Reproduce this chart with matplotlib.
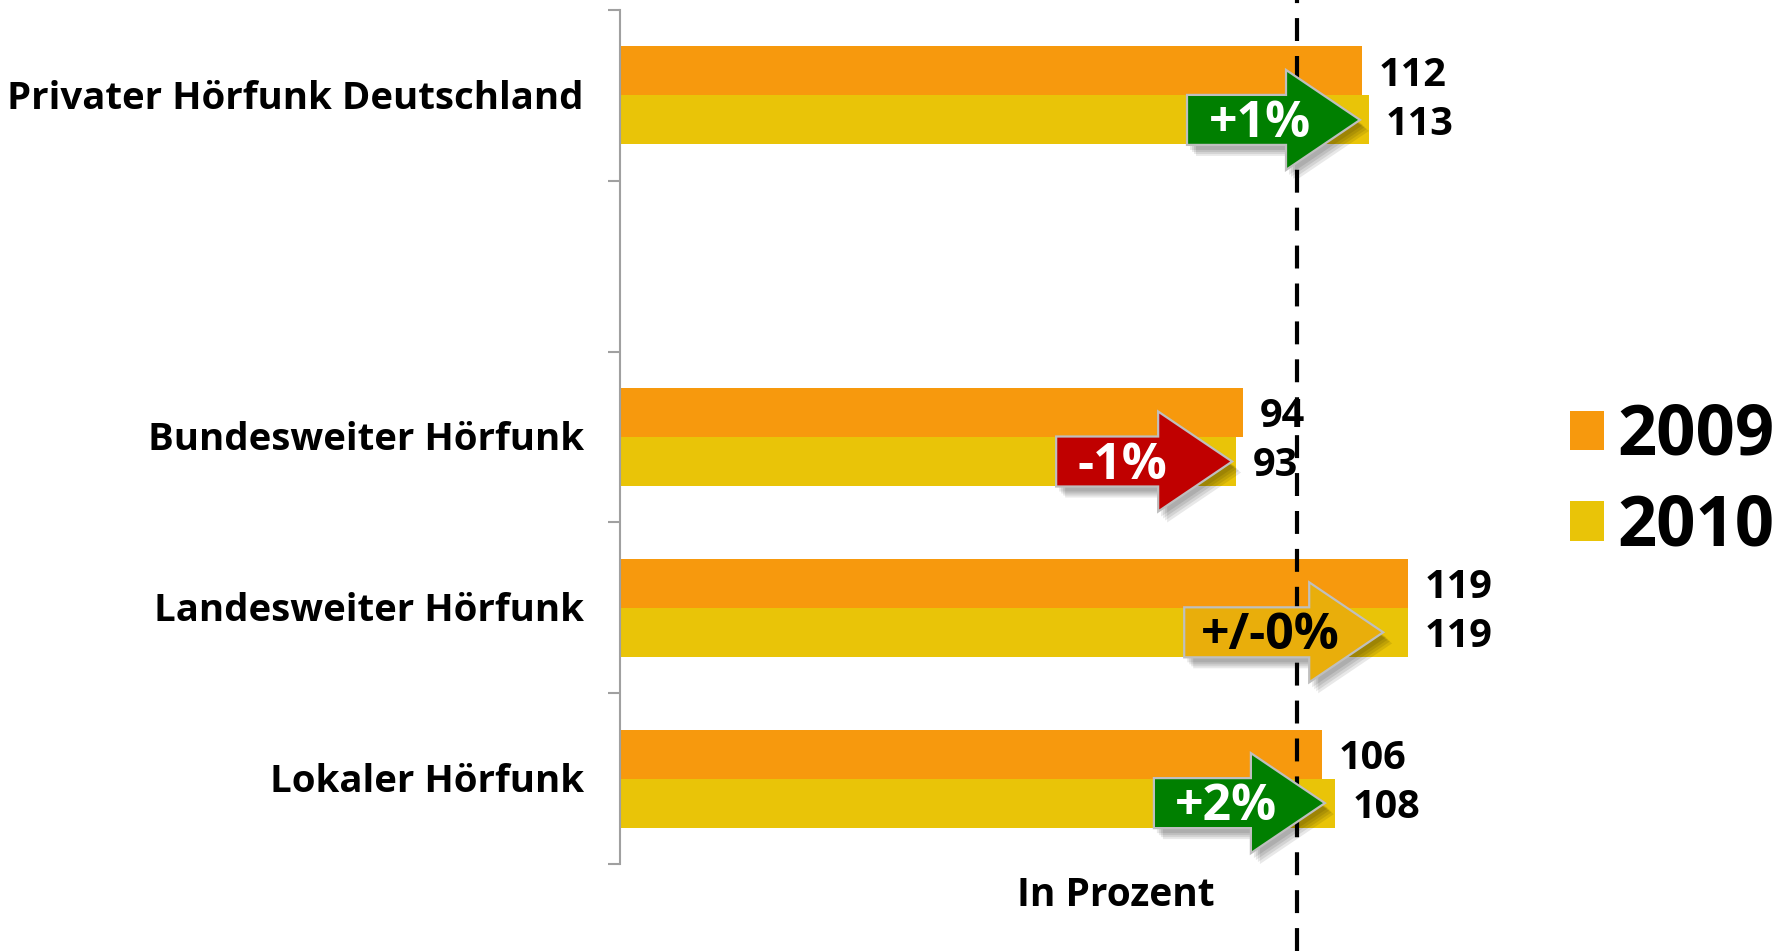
import matplotlib
matplotlib.use("Agg")
import matplotlib.pyplot as plt
from matplotlib.patches import Polygon
from matplotlib.transforms import blended_transform_factory

# ---------------- data ----------------
categories = ["Privater Hörfunk Deutschland", "", "Bundesweiter Hörfunk",
              "Landesweiter Hörfunk", "Lokaler Hörfunk"]
values_2009 = [112, None, 94, 119, 106]
values_2010 = [113, None, 93, 119, 108]
series_names = ["2009", "2010"]
changes = ["+1%", None, "-1%", "+/-0%", "+2%"]
reference_value = 102.2
axis_note = "In Prozent"

# ---------------- style / layout ----------------
FONT = ["Open Sans", "DejaVu Sans"]
plt.rcParams["font.family"] = FONT
C09 = "#F7990D"
C10 = "#E9C408"
arrow_styles = {"+": ("#007F00", "white"), "-": ("#C00000", "white"), "0": ("#E9AE0B", "black")}
arrow_tip_x = [111.7, None, 92.4, 115.2, 106.4]      # data units
arrow_len_px = [173, None, 176, 199, 171]
arrow_text_back_px = [100, None, 110, 113, 99]

W, H = 1790, 951
fig = plt.figure(figsize=(W / 100, H / 100), dpi=100)
ax_left, ax_top, ax_bottom = 620, 10, 864
px_per_unit = 6.625
ax = fig.add_axes([ax_left / W, 1 - ax_bottom / H, (W - ax_left) / W, (ax_bottom - ax_top) / H])
ax.set_xlim(0, (W - ax_left) / px_per_unit)
ax.set_ylim(len(categories), 0)

h = 0.287
centers = [i + 0.5 for i in range(len(categories))]
idx = [i for i, c in enumerate(categories) if c]
y09 = [centers[i] - h / 2 for i in idx]
y10 = [centers[i] + h / 2 for i in idx]
b09 = ax.barh(y09, [values_2009[i] for i in idx], height=h, color=C09, label=series_names[0], zorder=2)
b10 = ax.barh(y10, [values_2010[i] for i in idx], height=h, color=C10, label=series_names[1], zorder=2)

for s in ["top", "right", "bottom"]:
    ax.spines[s].set_visible(False)
ax.spines["left"].set_color("#A0A0A0")
ax.spines["left"].set_linewidth(1.5)
ax.set_yticks(range(len(categories) + 1))
ax.set_yticklabels([])
ax.tick_params(axis="y", length=8.6, width=1.5, color="#A0A0A0", direction="out")
ax.set_xticks([])

# category labels
for i in idx:
    ax.annotate(categories[i], xy=(0, centers[i]), xytext=(-26, -2.5), textcoords="offset points",
                ha="right", va="center", fontsize=27.6, fontweight="bold", color="black")

# value labels
for j, i in enumerate(idx):
    for yy, v in ((y09[j], values_2009[i]), (y10[j], values_2010[i])):
        ax.annotate(f"{v}", xy=(v, yy), xytext=(12, -3), textcoords="offset points",
                    ha="left", va="center", fontsize=28.5, fontweight="bold", color="black", zorder=3)

# dashed reference line
trans = blended_transform_factory(ax.transData, fig.transFigure)
ax.plot([reference_value, reference_value], [0, 1], transform=trans, color="black", lw=3,
        dashes=(5.5, 3.6), clip_on=False, zorder=4)

# arrows
inv = ax.transData.inverted()
for j, i in enumerate(idx):
    ch = changes[i]
    key = "-" if ch.startswith("-") else ("0" if "/" in ch else "+")
    fc, tc = arrow_styles[key]
    tx, ty = ax.transData.transform((arrow_tip_x[i], y10[j]))
    L = arrow_len_px[i]
    hl, bh, hh = 74, 25, 50
    pts = [(tx - L, ty + bh), (tx - hl, ty + bh), (tx - hl, ty + hh), (tx, ty),
           (tx - hl, ty - hh), (tx - hl, ty - bh), (tx - L, ty - bh)]
    for k, (dx, dy) in enumerate([(3, -5), (5, -7), (7, -9), (9, -11)]):
        sp = inv.transform([(x + dx, y + dy) for x, y in pts])
        ax.add_patch(Polygon(sp, closed=True, facecolor="black", edgecolor="none",
                             alpha=0.09, zorder=5, clip_on=False))
    dp = inv.transform(pts)
    ax.add_patch(Polygon(dp, closed=True, facecolor=fc, edgecolor="#BFBFBF", lw=1.6,
                         zorder=6, clip_on=False, joinstyle="miter"))
    cx, cy = inv.transform((tx - arrow_text_back_px[i], ty - 4))
    ax.text(cx, cy, ch, ha="center", va="center", fontsize=36, fontweight="bold",
            color=tc, zorder=7)

# axis note
fig.text(1116 / W, 1 - 896 / H, axis_note, ha="center", va="center", fontsize=28,
         fontweight="bold", color="black")

# legend
ax.legend(handles=[b09, b10], labels=series_names, loc="center left",
          bbox_to_anchor=(1570 / W, 1 - 482 / H), bbox_transform=fig.transFigure,
          prop={"weight": "bold", "size": 49.5}, handlelength=0.5, handleheight=0.5,
          handletextpad=0.19, labelspacing=0.3, borderpad=0, borderaxespad=0, frameon=False)

fig.savefig("out.png", dpi=100, facecolor="white")
